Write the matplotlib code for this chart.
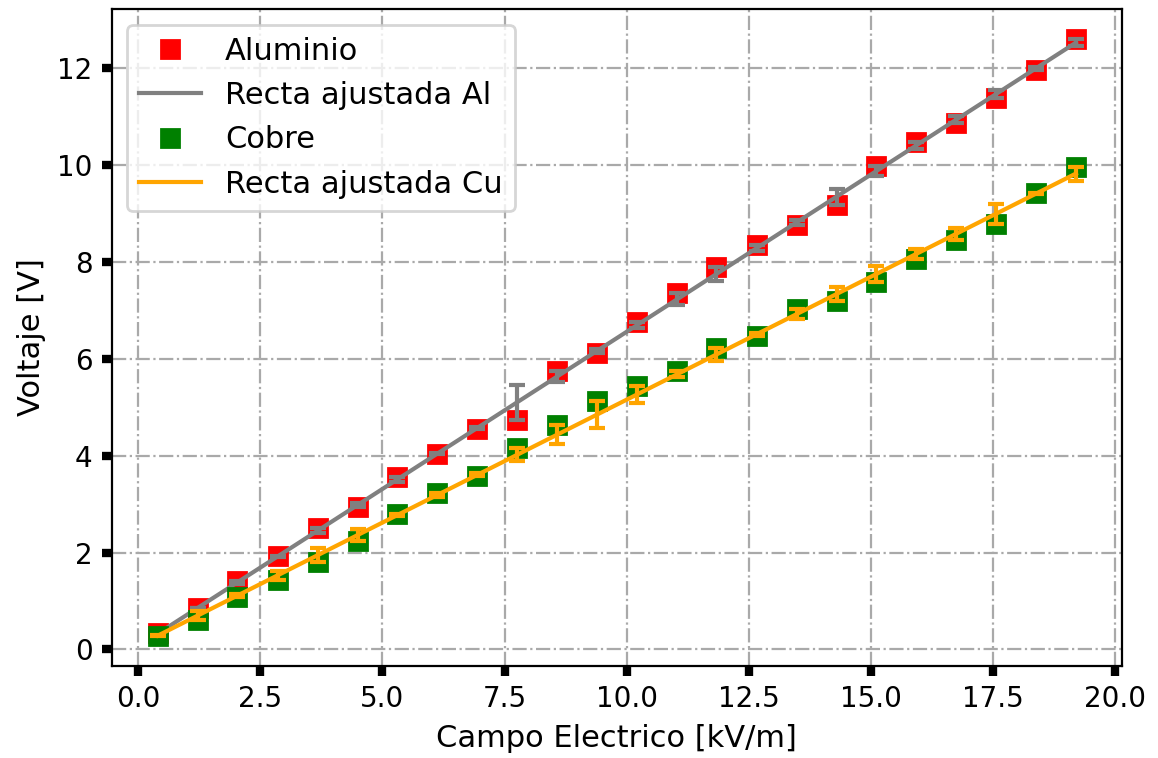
import numpy as np
import matplotlib
matplotlib.use("Agg")
import matplotlib.pyplot as plt

# campo electrico [kV/m]
campo = [0.40, 1.22, 2.03, 2.85, 3.67, 4.49, 5.30, 6.12, 6.94, 7.76, 8.57, 9.39,
         10.21, 11.03, 11.84, 12.66, 13.48, 14.30, 15.11, 15.93, 16.75, 17.57, 18.38, 19.20]

# voltaje [V]
v_al = [0.33, 0.86, 1.42, 1.92, 2.50, 2.94, 3.56, 4.03, 4.55, 4.74, 5.74, 6.13,
        6.75, 7.35, 7.90, 8.34, 8.76, 9.18, 9.98, 10.48, 10.86, 11.38, 11.97, 12.60]
v_cu = [0.28, 0.61, 1.08, 1.44, 1.80, 2.24, 2.79, 3.23, 3.57, 4.15, 4.63, 5.12,
        5.43, 5.74, 6.23, 6.47, 7.02, 7.19, 7.58, 8.07, 8.46, 8.79, 9.42, 9.97]

x = np.array(campo)
y_al = np.array(v_al)
y_cu = np.array(v_cu)

# ajuste lineal
p_al = np.polyfit(x, y_al, 1)
p_cu = np.polyfit(x, y_cu, 1)
fit_al = np.polyval(p_al, x)
fit_cu = np.polyval(p_cu, x)

plt.rcParams["font.size"] = 10

fig = plt.figure(figsize=(5.79, 3.79), dpi=200)
ax = plt.gca()
fig.subplots_adjust(left=0.0967, right=0.9687, top=0.9877, bottom=0.1218)

ax.plot(x, y_al, "s", color="red", ms=6.3, label="Aluminio")
ax.plot(x, fit_al, "-", color="gray", lw=1.5, label="Recta ajustada Al")
ax.errorbar(x, fit_al, yerr=np.abs(y_al - fit_al), fmt="none", ecolor="gray",
            elinewidth=1.5, capsize=3, capthick=1.5)
ax.plot(x, y_cu, "s", color="green", ms=6.3, label="Cobre")
ax.plot(x, fit_cu, "-", color="orange", lw=1.5, label="Recta ajustada Cu")
ax.errorbar(x, fit_cu, yerr=np.abs(y_cu - fit_cu), fmt="none", ecolor="orange",
            elinewidth=1.5, capsize=3, capthick=1.5)

ax.grid(True, color="darkgray", ls="-.", lw=0.8)
ax.tick_params(direction="out", width=3, length=3.5)
ax.set_xlabel("Campo Electrico [kV/m]", fontsize=11)
ax.set_ylabel("Voltaje [V]", fontsize=11)
ax.legend(loc="upper left", fontsize=11, numpoints=1)

fig.savefig("out.png", dpi=200)
